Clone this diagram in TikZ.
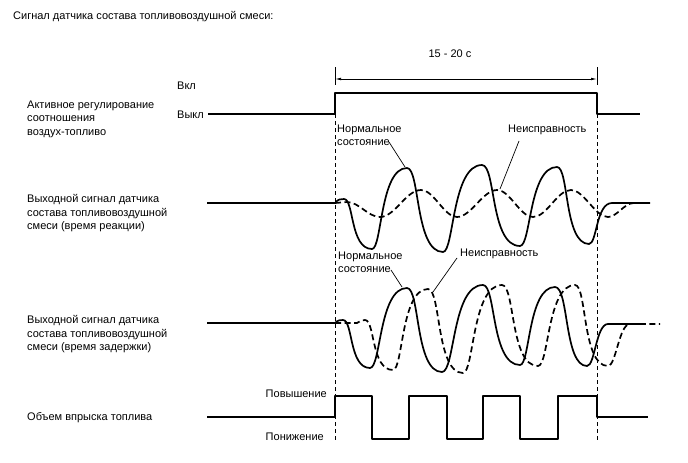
\documentclass[tikz,border=0pt]{standalone}
\usepackage{fontspec}
\setmainfont{Liberation Sans}
\usetikzlibrary{arrows.meta}
\begin{document}
\begin{tikzpicture}[x=1pt,y=-1pt,
  lbl/.style={inner sep=0pt, font=\fontsize{11}{13.4}\selectfont, align=left},
  sig/.style={line width=1.7pt, line join=round},
  sigd/.style={sig, dash pattern=on 6pt off 3.5pt},
  guide/.style={line width=0.7pt, dash pattern=on 4pt off 3pt},
  lead/.style={line width=0.7pt},
  tip/.tip={Latex[length=6pt,width=2.6pt]},
]
\useasboundingbox (0,0) rectangle (688,463);

% texts
\node[lbl,anchor=west] (title) at (13,16.7) {Сигнал датчика состава топливовоздушной смеси:};
\node[lbl,anchor=west] (l1) at (27,119.3) {Активное регулирование\\соотношения\\воздух-топливо};
\node[lbl,anchor=west] (l2) at (27,213.3) {Выходной сигнал датчика\\состава топливовоздушной\\смеси (время реакции)};
\node[lbl,anchor=west] (l3) at (27,334.3) {Выходной сигнал датчика\\состава топливовоздушной\\смеси (время задержки)};
\node[lbl,anchor=west] (l4) at (27,418) {Объем впрыска топлива};
\node[lbl,anchor=west] (on) at (177,86) {Вкл};
\node[lbl,anchor=west] (off) at (177,115) {Выкл};
\node[lbl] (dur) at (450,54) {15 - 20 с};
\node[lbl,anchor=east] (up) at (327,394) {Повышение};
\node[lbl,anchor=east] (down) at (324,437) {Понижение};
\node[lbl,anchor=west] (n1) at (337,135.4) {Нормальное\\состояние};
\node[lbl,anchor=west] (f1) at (508,130) {Неисправность};
\node[lbl,anchor=west] (n2) at (338,262.4) {Нормальное\\состояние};
\node[lbl,anchor=west] (f2) at (460,254) {Неисправность};

% coordinates
\coordinate (tA) at (335,67);  \coordinate (tAb) at (335,85);
\coordinate (tB) at (597,67);  \coordinate (tBb) at (597,85);
\coordinate (aA) at (335,79);  \coordinate (aB) at (597,79);
\coordinate (gA) at (335,114); \coordinate (gAb) at (335,442);
\coordinate (gB) at (597,114); \coordinate (gBb) at (597,442);

% guides
\draw[guide] (gA) -- (gAb);
\draw[guide] (gB) -- (gBb);
\draw[lead] (tA) -- (tAb);
\draw[lead] (tB) -- (tBb);
\draw[lead,tip-tip] (aA) -- (aB);

% active control step
\draw[sig] (208,114) -- (335,114) -- (335,93) -- (597,93) -- (597,114) -- (640,114);

% response-time waveform
\draw[sig] (207,203) -- (335,203)
  .. controls (338,199) and (341,199) .. (344,199)
  .. controls (354,199) and (350,249) .. (372,249)
  .. controls (382,249) and (380,168) .. (407,168)
  .. controls (420,168) and (415,252) .. (443,252)
  .. controls (454,252) and (452,165) .. (482,165)
  .. controls (496,165) and (490,246) .. (520,246)
  .. controls (531,246) and (529,167) .. (557,167)
  .. controls (569,167) and (564,244) .. (589,244)
  .. controls (597,244) and (596,203) .. (612,203)
  -- (650,203);
\draw[sigd] (335,203) -- (347,202)
  .. controls (359,202) and (368,217) .. (380,217)
  .. controls (395,217) and (406,190) .. (421,190)
  .. controls (434,190) and (444,217) .. (457,217)
  .. controls (471,217) and (483,190) .. (497,190)
  .. controls (510,190) and (520,217) .. (533,217)
  .. controls (547,217) and (557,190) .. (571,190)
  .. controls (584,190) and (595,217) .. (608,217)
  .. controls (617,217) and (624,203) .. (634,203);

% delay waveform
\draw[sig] (207,323) -- (335,323)
  .. controls (338,320) and (340,320) .. (343,320)
  .. controls (353,320) and (349,368) .. (370,368)
  .. controls (381,368) and (379,288) .. (407,288)
  .. controls (420,288) and (415,372) .. (442,372)
  .. controls (455,372) and (452,285) .. (483,285)
  .. controls (496,285) and (491,365) .. (520,365)
  .. controls (530,365) and (528,287) .. (555,287)
  .. controls (569,287) and (564,366) .. (587,366)
  .. controls (595,366) and (596,324) .. (608,324)
  -- (640,324);
\draw[sigd] (335,323) -- (357,323)
  .. controls (360,321) and (362,320) .. (365,320)
  .. controls (375,320) and (371,370) .. (393,370)
  .. controls (403,370) and (401,289) .. (428,289)
  .. controls (441,289) and (436,373) .. (463,373)
  .. controls (474,373) and (472,285) .. (502,285)
  .. controls (515,285) and (510,366) .. (538,366)
  .. controls (549,366) and (547,285) .. (575,285)
  .. controls (587,285) and (582,366) .. (608,366)
  .. controls (616,366) and (619,324) .. (630,324)
  -- (660,324);

% injection volume
\draw[sig] (207,417) -- (335,417) -- (335,396) -- (372,396) -- (372,439) -- (409,439)
  -- (409,396) -- (447,396) -- (447,439) -- (483,439) -- (483,396) -- (520,396)
  -- (520,439) -- (558,439) -- (558,396) -- (597,396) -- (597,417) -- (648,417);

% leaders
\coordinate (n1a) at (389,142); \coordinate (n1b) at (405,167);
\coordinate (f1a) at (519,141); \coordinate (f1b) at (500,189);
\coordinate (n2a) at (391,270); \coordinate (n2b) at (402,287);
\coordinate (f2a) at (457,258); \coordinate (f2b) at (433,292);
\draw[lead] (n1a) -- (n1b);
\draw[lead] (f1a) -- (f1b);
\draw[lead] (n2a) -- (n2b);
\draw[lead] (f2a) -- (f2b);
\end{tikzpicture}
\end{document}
